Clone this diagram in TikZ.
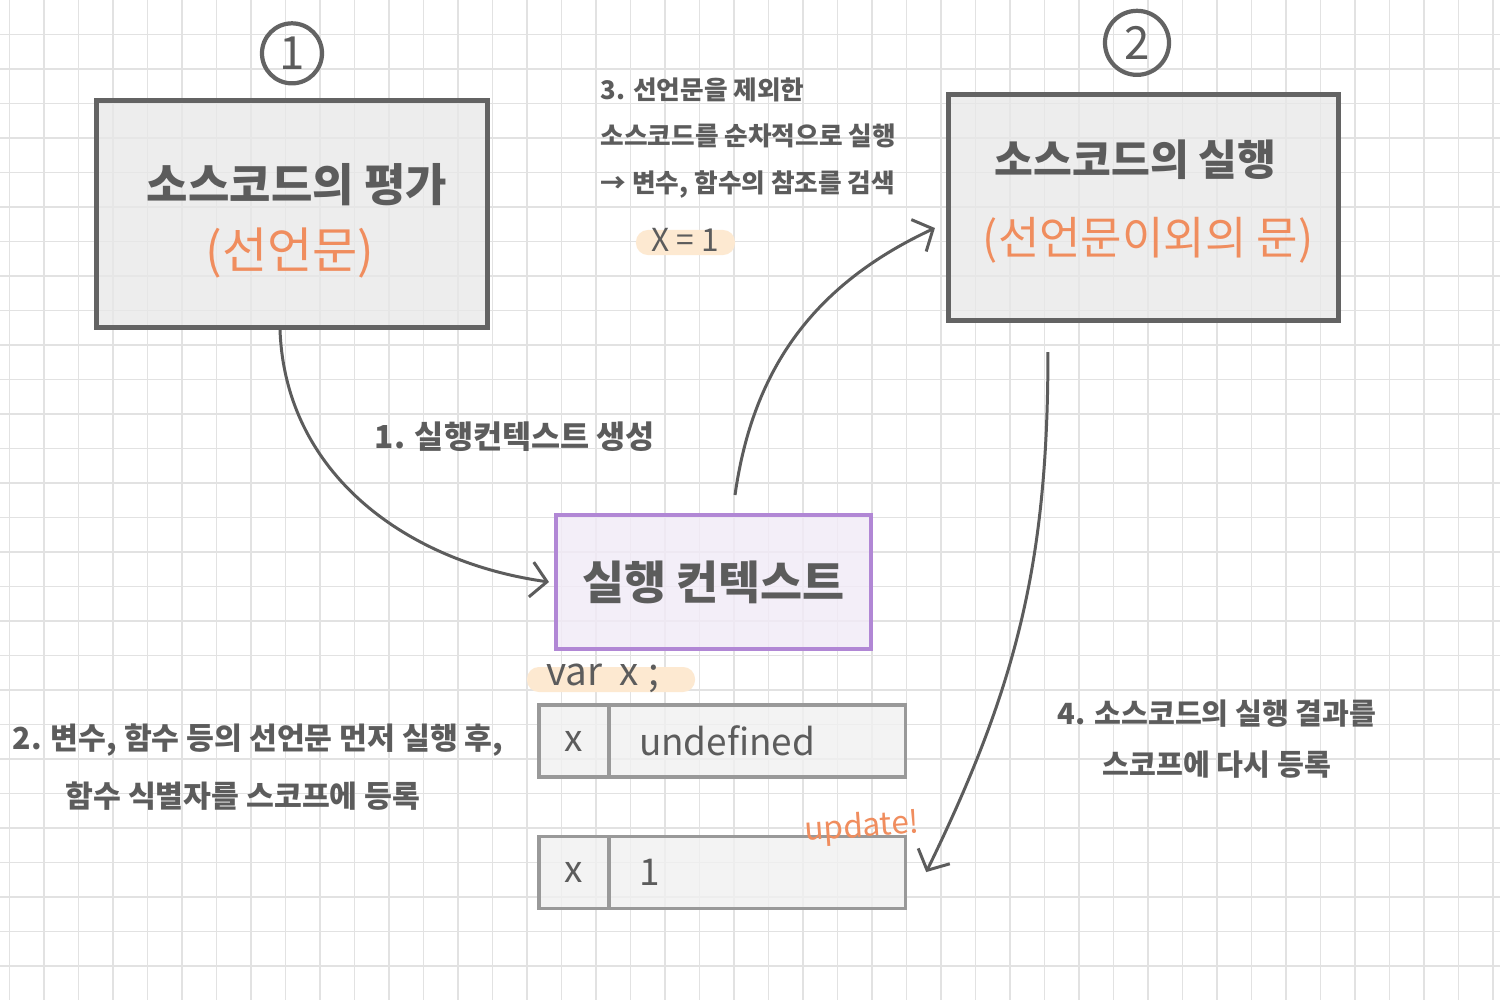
\documentclass[tikz,border=0pt]{standalone}
\usepackage{fontspec}
\setmainfont{Noto Sans CJK KR}
\usepackage{tikz}
\usetikzlibrary{arrows.meta, positioning, calc}
\definecolor{gridgray}{HTML}{E2E2E2}
\definecolor{boxline}{HTML}{636363}
\definecolor{boxfill}{HTML}{E8E8E8}
\definecolor{inkgray}{HTML}{5C5C5C}
\definecolor{codeorange}{HTML}{F08D5E}
\definecolor{ctxline}{HTML}{B187D5}
\definecolor{ctxfill}{HTML}{F1EAF7}
\definecolor{cellline}{HTML}{999999}
\definecolor{cellfill}{HTML}{F0F0F0}
\definecolor{hlpeach}{HTML}{FDE9D1}

\begin{document}
\begin{tikzpicture}[x=0.01cm, y=-0.01cm,
    gridline/.style={draw=gridgray, line width=0.45pt},
    bigbox/.style={rectangle, draw=boxline, fill=boxfill, fill opacity=0.75, draw opacity=1, line width=1.4pt, minimum width=3.9cm, minimum height=2.26cm},
    title/.style={text=inkgray, font=\bfseries\fontsize{12}{14}\selectfont, inner sep=0pt},
    subtitle/.style={text=codeorange, font=\fontsize{12.8}{14}\selectfont, inner sep=0pt},
    stepnum/.style={circle, draw=boxline, line width=1.2pt, text=inkgray, font=\fontsize{13}{14}\selectfont, inner sep=0pt},
    note/.style={text=inkgray, inner sep=0pt},
    cell/.style={rectangle, draw=cellline, fill=cellfill, fill opacity=0.8, draw opacity=1, text opacity=1, line width=0.9pt, minimum height=0.72cm, outer sep=0pt, text=inkgray, font=\fontsize{10.5}{12}\selectfont},
    keycell/.style={cell, minimum width=0.7cm, inner sep=0pt},
    valcell/.style={cell, inner xsep=0.3cm, text width=2.36cm, align=left},
    marker/.style={rectangle, rounded corners=0.12cm, fill=hlpeach, inner sep=0pt},
    flow/.style={draw=inkgray, line width=0.85pt, -{Straight Barb[length=4.5pt, width=10pt]}}]
    \fill[white] (0,0) rectangle (1500,1000);%page
    \useasboundingbox (0,0) rectangle (1500,1000);
    \foreach \gx in {0,...,43} \draw[gridline] ({9.5+34.5*\gx},0) -- ({9.5+34.5*\gx},1000);%grid columns
    \foreach \gy in {1,...,28} \draw[gridline] (0,{34.5*\gy}) -- (1500,{34.5*\gy});%grid rows
    \node (boxA) [bigbox] at (292,214) {};%evaluation box
    \node (numA) [stepnum, minimum size=0.6cm, above=0.13cm of boxA] {1};%step one
    \node (titleA) [title, font=\bfseries\fontsize{12.8}{14}\selectfont] at ([yshift=0.29cm, xshift=0.05cm]boxA.center) {소스코드의 평가};
    \node (subA) [subtitle, font=\fontsize{14}{16}\selectfont] at ([yshift=-0.39cm, xshift=-0.02cm]boxA.center) {(선언문)};
    \node (boxB) [bigbox] at (1143.5,207.5) {};%execution box
    \node (numB) [stepnum, minimum size=0.64cm, above=0.15cm of boxB, xshift=-0.065cm] {2};%step two
    \node (titleB) [title] at ([yshift=0.475cm, xshift=-0.08cm]boxB.center) {소스코드의 실행};
    \node (subB) [subtitle] at ([yshift=-0.325cm, xshift=0.045cm]boxB.center) {(선언문이외의 문)};
    \node (ctx) [rectangle, draw=ctxline, fill=ctxfill, fill opacity=0.8, draw opacity=1, text opacity=1, line width=1.1pt, minimum width=3.15cm, minimum height=1.34cm, text=inkgray, font=\bfseries\fontsize{13}{15}\selectfont] at (713.5,582) {실행 컨텍스트};%execution context
    \node (varmark) [marker, minimum width=1.68cm, minimum height=0.25cm] at (611,679.5) {};%highlight
    \node (varx) [note, font=\fontsize{11}{12}\selectfont] at (603,678) {var\hspace{0.45em}x\hspace{0.25em};};
    \node (key1) [keycell, below right=0.54cm and -0.15cm of ctx.south west] {x};%first record
    \node (val1) [valcell, right=0 of key1] {undefined};
    \node (key2) [keycell, below=0.59cm of key1] {x};%updated record
    \node (val2) [valcell, right=0 of key2] {1};
    \node (upd) [note, text=codeorange, font=\fontsize{9}{10}\selectfont, rotate=4] at (862,828) {update!};
    \node (evalnote) [note, align=left, anchor=west, font=\bfseries\fontsize{7.3}{13.3}\selectfont] at (600,138) {3. 선언문을 제외한\\소스코드를 순차적으로 실행\\→ 변수, 함수의 참조를 검색};
    \node (xmark) [marker, minimum width=0.99cm, minimum height=0.25cm] at (685.5,242.5) {};%highlight
    \node (xval) [note, font=\fontsize{9}{10}\selectfont] at (685,240) {X = 1};
    \node (makectx) [note, font=\bfseries\fontsize{9}{10}\selectfont] at (515,437) {1. 실행컨텍스트 생성};
    \node (declnote) [note, align=left, anchor=west, font=\bfseries\fontsize{8.6}{16.7}\selectfont] at (12,767) {2. 변수, 함수 등의 선언문 먼저 실행 후,\\\hspace*{1.75em}함수 식별자를 스코프에 등록};
    \node (resultnote) [note, align=center, font=\bfseries\fontsize{8.3}{14.7}\selectfont] at (1217,739) {4. 소스코드의 실행 결과를\\스코프에 다시 등록};
    \draw[flow] ([xshift=-0.12cm]boxA.south) to[out=-88, in=172] ([xshift=-0.05cm]ctx.west);%create context
    \draw[flow] ([xshift=0.215cm, yshift=0.18cm]ctx.north) to[out=82, in=205] ([xshift=-0.11cm, yshift=-0.205cm]boxB.west);%run code
    \draw[flow] ([xshift=-0.955cm, yshift=-0.29cm]boxB.south) to[out=-90, in=64] ([xshift=0.21cm]val2.east);%store result
\end{tikzpicture}
\end{document}
